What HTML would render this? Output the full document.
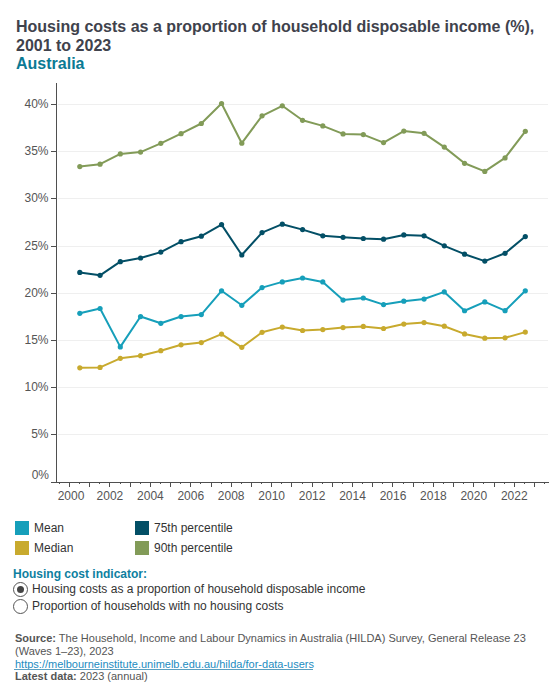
<!DOCTYPE html>
<html><head><meta charset="utf-8"><style>
html,body{margin:0;padding:0;background:#fff;}
body{width:560px;height:700px;position:relative;overflow:hidden;font-family:"Liberation Sans",sans-serif;}
.t{position:absolute;white-space:nowrap;}
#title{left:16px;top:17px;font-size:16px;font-weight:bold;color:#40424c;line-height:19px;}
#sub{left:16px;top:54px;font-size:16px;font-weight:bold;color:#0b7a94;line-height:19px;}
svg{position:absolute;left:0;top:0;}
.yl{position:absolute;right:511.5px;font-size:12px;line-height:16px;color:#555;text-align:right;}
.xl{position:absolute;top:488px;width:40px;text-align:center;font-size:12px;line-height:16px;color:#555;}
.sw{position:absolute;width:14px;height:14px;}
.lg{position:absolute;font-size:12px;line-height:16px;color:#333;white-space:nowrap;}
#hci{left:13px;top:566px;font-size:12px;font-weight:bold;color:#0e80a0;line-height:16px;}
.radio{position:absolute;width:13px;height:13px;border:1px solid #555;border-radius:50%;box-sizing:content-box;}
.dot{position:absolute;left:3px;top:3px;width:7px;height:7px;border-radius:50%;background:#444;}
.src{left:15px;font-size:11px;line-height:13px;color:#555;}
.src b{color:#555;}
.src a{color:#1c8cbf;text-decoration:none;}
#ul{position:absolute;left:14px;top:669px;width:299px;height:1px;background:#5a9fc0;}
</style></head><body>
<div class="t" id="title">Housing costs as a proportion of household disposable income (%),<br>2001 to 2023</div>
<div class="t" id="sub">Australia</div>
<svg width="560" height="700" viewBox="0 0 560 700"><rect x="58" y="104" width="490" height="1" fill="#efefef"/><rect x="58" y="151" width="490" height="1" fill="#efefef"/><rect x="58" y="198" width="490" height="1" fill="#efefef"/><rect x="58" y="246" width="490" height="1" fill="#efefef"/><rect x="58" y="293" width="490" height="1" fill="#efefef"/><rect x="58" y="340" width="490" height="1" fill="#efefef"/><rect x="58" y="387" width="490" height="1" fill="#efefef"/><rect x="58" y="434" width="490" height="1" fill="#efefef"/><rect x="56" y="83" width="1" height="400" fill="#4f4f4f"/><rect x="51" y="104" width="5" height="1" fill="#4f4f4f"/><rect x="51" y="151" width="5" height="1" fill="#4f4f4f"/><rect x="51" y="198" width="5" height="1" fill="#4f4f4f"/><rect x="51" y="246" width="5" height="1" fill="#4f4f4f"/><rect x="51" y="293" width="5" height="1" fill="#4f4f4f"/><rect x="51" y="340" width="5" height="1" fill="#4f4f4f"/><rect x="51" y="387" width="5" height="1" fill="#4f4f4f"/><rect x="51" y="434" width="5" height="1" fill="#4f4f4f"/><rect x="51" y="482" width="498" height="1" fill="#4f4f4f"/><rect x="69" y="483" width="1" height="4" fill="#4f4f4f"/><rect x="89" y="483" width="1" height="4" fill="#4f4f4f"/><rect x="109" y="483" width="1" height="4" fill="#4f4f4f"/><rect x="130" y="483" width="1" height="4" fill="#4f4f4f"/><rect x="150" y="483" width="1" height="4" fill="#4f4f4f"/><rect x="170" y="483" width="1" height="4" fill="#4f4f4f"/><rect x="190" y="483" width="1" height="4" fill="#4f4f4f"/><rect x="211" y="483" width="1" height="4" fill="#4f4f4f"/><rect x="231" y="483" width="1" height="4" fill="#4f4f4f"/><rect x="251" y="483" width="1" height="4" fill="#4f4f4f"/><rect x="271" y="483" width="1" height="4" fill="#4f4f4f"/><rect x="291" y="483" width="1" height="4" fill="#4f4f4f"/><rect x="312" y="483" width="1" height="4" fill="#4f4f4f"/><rect x="332" y="483" width="1" height="4" fill="#4f4f4f"/><rect x="352" y="483" width="1" height="4" fill="#4f4f4f"/><rect x="372" y="483" width="1" height="4" fill="#4f4f4f"/><rect x="392" y="483" width="1" height="4" fill="#4f4f4f"/><rect x="413" y="483" width="1" height="4" fill="#4f4f4f"/><rect x="433" y="483" width="1" height="4" fill="#4f4f4f"/><rect x="453" y="483" width="1" height="4" fill="#4f4f4f"/><rect x="473" y="483" width="1" height="4" fill="#4f4f4f"/><rect x="494" y="483" width="1" height="4" fill="#4f4f4f"/><rect x="514" y="483" width="1" height="4" fill="#4f4f4f"/><rect x="534" y="483" width="1" height="4" fill="#4f4f4f"/><rect x="59" y="483" width="1" height="1" fill="#4f4f4f"/><rect x="79" y="483" width="1" height="1" fill="#4f4f4f"/><rect x="99" y="483" width="1" height="1" fill="#4f4f4f"/><rect x="120" y="483" width="1" height="1" fill="#4f4f4f"/><rect x="140" y="483" width="1" height="1" fill="#4f4f4f"/><rect x="160" y="483" width="1" height="1" fill="#4f4f4f"/><rect x="180" y="483" width="1" height="1" fill="#4f4f4f"/><rect x="200" y="483" width="1" height="1" fill="#4f4f4f"/><rect x="221" y="483" width="1" height="1" fill="#4f4f4f"/><rect x="241" y="483" width="1" height="1" fill="#4f4f4f"/><rect x="261" y="483" width="1" height="1" fill="#4f4f4f"/><rect x="281" y="483" width="1" height="1" fill="#4f4f4f"/><rect x="302" y="483" width="1" height="1" fill="#4f4f4f"/><rect x="322" y="483" width="1" height="1" fill="#4f4f4f"/><rect x="342" y="483" width="1" height="1" fill="#4f4f4f"/><rect x="362" y="483" width="1" height="1" fill="#4f4f4f"/><rect x="382" y="483" width="1" height="1" fill="#4f4f4f"/><rect x="403" y="483" width="1" height="1" fill="#4f4f4f"/><rect x="423" y="483" width="1" height="1" fill="#4f4f4f"/><rect x="443" y="483" width="1" height="1" fill="#4f4f4f"/><rect x="463" y="483" width="1" height="1" fill="#4f4f4f"/><rect x="483" y="483" width="1" height="1" fill="#4f4f4f"/><rect x="504" y="483" width="1" height="1" fill="#4f4f4f"/><rect x="524" y="483" width="1" height="1" fill="#4f4f4f"/><rect x="544" y="483" width="1" height="1" fill="#4f4f4f"/><polyline points="79.80,166.55 100.05,164.20 120.30,153.90 140.55,152.10 160.80,143.30 181.05,133.70 201.30,123.50 221.55,103.50 241.80,143.20 262.05,115.80 282.30,105.80 302.55,120.30 322.80,125.90 343.05,133.90 363.30,134.60 383.55,142.60 403.80,131.10 424.05,133.30 444.30,147.10 464.55,163.30 484.80,171.40 505.05,157.90 525.30,131.30" fill="none" stroke="#829b58" stroke-width="2" stroke-linejoin="round"/><circle cx="79.80" cy="166.55" r="2.6" fill="#829b58"/><circle cx="100.05" cy="164.20" r="2.6" fill="#829b58"/><circle cx="120.30" cy="153.90" r="2.6" fill="#829b58"/><circle cx="140.55" cy="152.10" r="2.6" fill="#829b58"/><circle cx="160.80" cy="143.30" r="2.6" fill="#829b58"/><circle cx="181.05" cy="133.70" r="2.6" fill="#829b58"/><circle cx="201.30" cy="123.50" r="2.6" fill="#829b58"/><circle cx="221.55" cy="103.50" r="2.6" fill="#829b58"/><circle cx="241.80" cy="143.20" r="2.6" fill="#829b58"/><circle cx="262.05" cy="115.80" r="2.6" fill="#829b58"/><circle cx="282.30" cy="105.80" r="2.6" fill="#829b58"/><circle cx="302.55" cy="120.30" r="2.6" fill="#829b58"/><circle cx="322.80" cy="125.90" r="2.6" fill="#829b58"/><circle cx="343.05" cy="133.90" r="2.6" fill="#829b58"/><circle cx="363.30" cy="134.60" r="2.6" fill="#829b58"/><circle cx="383.55" cy="142.60" r="2.6" fill="#829b58"/><circle cx="403.80" cy="131.10" r="2.6" fill="#829b58"/><circle cx="424.05" cy="133.30" r="2.6" fill="#829b58"/><circle cx="444.30" cy="147.10" r="2.6" fill="#829b58"/><circle cx="464.55" cy="163.30" r="2.6" fill="#829b58"/><circle cx="484.80" cy="171.40" r="2.6" fill="#829b58"/><circle cx="505.05" cy="157.90" r="2.6" fill="#829b58"/><circle cx="525.30" cy="131.30" r="2.6" fill="#829b58"/><polyline points="79.80,272.40 100.05,275.30 120.30,261.70 140.55,258.00 160.80,252.10 181.05,241.70 201.30,236.20 221.55,224.60 241.80,255.00 262.05,232.60 282.30,224.20 302.55,229.60 322.80,235.80 343.05,237.30 363.30,238.50 383.55,239.20 403.80,234.90 424.05,235.80 444.30,245.80 464.55,254.20 484.80,261.10 505.05,253.30 525.30,236.55" fill="none" stroke="#034f66" stroke-width="2" stroke-linejoin="round"/><circle cx="79.80" cy="272.40" r="2.6" fill="#034f66"/><circle cx="100.05" cy="275.30" r="2.6" fill="#034f66"/><circle cx="120.30" cy="261.70" r="2.6" fill="#034f66"/><circle cx="140.55" cy="258.00" r="2.6" fill="#034f66"/><circle cx="160.80" cy="252.10" r="2.6" fill="#034f66"/><circle cx="181.05" cy="241.70" r="2.6" fill="#034f66"/><circle cx="201.30" cy="236.20" r="2.6" fill="#034f66"/><circle cx="221.55" cy="224.60" r="2.6" fill="#034f66"/><circle cx="241.80" cy="255.00" r="2.6" fill="#034f66"/><circle cx="262.05" cy="232.60" r="2.6" fill="#034f66"/><circle cx="282.30" cy="224.20" r="2.6" fill="#034f66"/><circle cx="302.55" cy="229.60" r="2.6" fill="#034f66"/><circle cx="322.80" cy="235.80" r="2.6" fill="#034f66"/><circle cx="343.05" cy="237.30" r="2.6" fill="#034f66"/><circle cx="363.30" cy="238.50" r="2.6" fill="#034f66"/><circle cx="383.55" cy="239.20" r="2.6" fill="#034f66"/><circle cx="403.80" cy="234.90" r="2.6" fill="#034f66"/><circle cx="424.05" cy="235.80" r="2.6" fill="#034f66"/><circle cx="444.30" cy="245.80" r="2.6" fill="#034f66"/><circle cx="464.55" cy="254.20" r="2.6" fill="#034f66"/><circle cx="484.80" cy="261.10" r="2.6" fill="#034f66"/><circle cx="505.05" cy="253.30" r="2.6" fill="#034f66"/><circle cx="525.30" cy="236.55" r="2.6" fill="#034f66"/><polyline points="79.80,313.30 100.05,308.50 120.30,346.90 140.55,316.55 160.80,323.30 181.05,316.55 201.30,314.60 221.55,290.80 241.80,305.30 262.05,287.60 282.30,281.90 302.55,278.00 322.80,281.90 343.05,300.10 363.30,298.00 383.55,304.60 403.80,301.20 424.05,299.05 444.30,291.90 464.55,310.75 484.80,301.90 505.05,310.70 525.30,290.80" fill="none" stroke="#169fba" stroke-width="2" stroke-linejoin="round"/><circle cx="79.80" cy="313.30" r="2.6" fill="#169fba"/><circle cx="100.05" cy="308.50" r="2.6" fill="#169fba"/><circle cx="120.30" cy="346.90" r="2.6" fill="#169fba"/><circle cx="140.55" cy="316.55" r="2.6" fill="#169fba"/><circle cx="160.80" cy="323.30" r="2.6" fill="#169fba"/><circle cx="181.05" cy="316.55" r="2.6" fill="#169fba"/><circle cx="201.30" cy="314.60" r="2.6" fill="#169fba"/><circle cx="221.55" cy="290.80" r="2.6" fill="#169fba"/><circle cx="241.80" cy="305.30" r="2.6" fill="#169fba"/><circle cx="262.05" cy="287.60" r="2.6" fill="#169fba"/><circle cx="282.30" cy="281.90" r="2.6" fill="#169fba"/><circle cx="302.55" cy="278.00" r="2.6" fill="#169fba"/><circle cx="322.80" cy="281.90" r="2.6" fill="#169fba"/><circle cx="343.05" cy="300.10" r="2.6" fill="#169fba"/><circle cx="363.30" cy="298.00" r="2.6" fill="#169fba"/><circle cx="383.55" cy="304.60" r="2.6" fill="#169fba"/><circle cx="403.80" cy="301.20" r="2.6" fill="#169fba"/><circle cx="424.05" cy="299.05" r="2.6" fill="#169fba"/><circle cx="444.30" cy="291.90" r="2.6" fill="#169fba"/><circle cx="464.55" cy="310.75" r="2.6" fill="#169fba"/><circle cx="484.80" cy="301.90" r="2.6" fill="#169fba"/><circle cx="505.05" cy="310.70" r="2.6" fill="#169fba"/><circle cx="525.30" cy="290.80" r="2.6" fill="#169fba"/><polyline points="79.80,367.80 100.05,367.40 120.30,358.30 140.55,355.70 160.80,350.70 181.05,344.80 201.30,342.60 221.55,334.05 241.80,347.30 262.05,332.30 282.30,327.10 302.55,330.50 322.80,329.60 343.05,327.60 363.30,326.40 383.55,328.50 403.80,324.05 424.05,322.60 444.30,326.20 464.55,333.90 484.80,338.20 505.05,337.80 525.30,332.10" fill="none" stroke="#c8aa2e" stroke-width="2" stroke-linejoin="round"/><circle cx="79.80" cy="367.80" r="2.6" fill="#c8aa2e"/><circle cx="100.05" cy="367.40" r="2.6" fill="#c8aa2e"/><circle cx="120.30" cy="358.30" r="2.6" fill="#c8aa2e"/><circle cx="140.55" cy="355.70" r="2.6" fill="#c8aa2e"/><circle cx="160.80" cy="350.70" r="2.6" fill="#c8aa2e"/><circle cx="181.05" cy="344.80" r="2.6" fill="#c8aa2e"/><circle cx="201.30" cy="342.60" r="2.6" fill="#c8aa2e"/><circle cx="221.55" cy="334.05" r="2.6" fill="#c8aa2e"/><circle cx="241.80" cy="347.30" r="2.6" fill="#c8aa2e"/><circle cx="262.05" cy="332.30" r="2.6" fill="#c8aa2e"/><circle cx="282.30" cy="327.10" r="2.6" fill="#c8aa2e"/><circle cx="302.55" cy="330.50" r="2.6" fill="#c8aa2e"/><circle cx="322.80" cy="329.60" r="2.6" fill="#c8aa2e"/><circle cx="343.05" cy="327.60" r="2.6" fill="#c8aa2e"/><circle cx="363.30" cy="326.40" r="2.6" fill="#c8aa2e"/><circle cx="383.55" cy="328.50" r="2.6" fill="#c8aa2e"/><circle cx="403.80" cy="324.05" r="2.6" fill="#c8aa2e"/><circle cx="424.05" cy="322.60" r="2.6" fill="#c8aa2e"/><circle cx="444.30" cy="326.20" r="2.6" fill="#c8aa2e"/><circle cx="464.55" cy="333.90" r="2.6" fill="#c8aa2e"/><circle cx="484.80" cy="338.20" r="2.6" fill="#c8aa2e"/><circle cx="505.05" cy="337.80" r="2.6" fill="#c8aa2e"/><circle cx="525.30" cy="332.10" r="2.6" fill="#c8aa2e"/></svg>
<div class="yl" style="top:96px">40%</div><div class="yl" style="top:143px">35%</div><div class="yl" style="top:190px">30%</div><div class="yl" style="top:238px">25%</div><div class="yl" style="top:285px">20%</div><div class="yl" style="top:332px">15%</div><div class="yl" style="top:379px">10%</div><div class="yl" style="top:426px">5%</div><div class="yl" style="top:467px;right:511px">0%</div>
<div class="xl" style="left:51.0px">2000</div><div class="xl" style="left:89.9px">2002</div><div class="xl" style="left:130.4px">2004</div><div class="xl" style="left:170.8px">2006</div><div class="xl" style="left:211.2px">2008</div><div class="xl" style="left:251.7px">2010</div><div class="xl" style="left:292.1px">2012</div><div class="xl" style="left:332.5px">2014</div><div class="xl" style="left:373.0px">2016</div><div class="xl" style="left:413.4px">2018</div><div class="xl" style="left:453.8px">2020</div><div class="xl" style="left:494.3px">2022</div>
<div class="sw" style="left:15px;top:521px;background:#169fba"></div>
<div class="lg" style="left:34px;top:520px">Mean</div>
<div class="sw" style="left:15px;top:541px;background:#c8aa2e"></div>
<div class="lg" style="left:34px;top:540px">Median</div>
<div class="sw" style="left:135px;top:521px;background:#034f66"></div>
<div class="lg" style="left:154px;top:520px">75th percentile</div>
<div class="sw" style="left:135px;top:541px;background:#829b58"></div>
<div class="lg" style="left:154px;top:540px">90th percentile</div>
<div class="t" id="hci">Housing cost indicator:</div>
<div class="radio" style="left:13px;top:582px"><div class="dot"></div></div>
<div class="lg" style="left:32px;top:581px">Housing costs as a proportion of household disposable income</div>
<div class="radio" style="left:13px;top:599px"></div>
<div class="lg" style="left:32px;top:598px">Proportion of households with no housing costs</div>
<div class="t src" style="top:632px"><b>Source:</b> The Household, Income and Labour Dynamics in Australia (HILDA) Survey, General Release 23</div>
<div class="t src" style="top:645px">(Waves 1&#8211;23), 2023</div>
<div class="t src" style="top:658px"><a>https://melbourneinstitute.unimelb.edu.au/hilda/for-data-users</a></div>
<div id="ul"></div>
<div class="t src" style="top:670px"><b>Latest data:</b> 2023 (annual)</div>
</body></html>
